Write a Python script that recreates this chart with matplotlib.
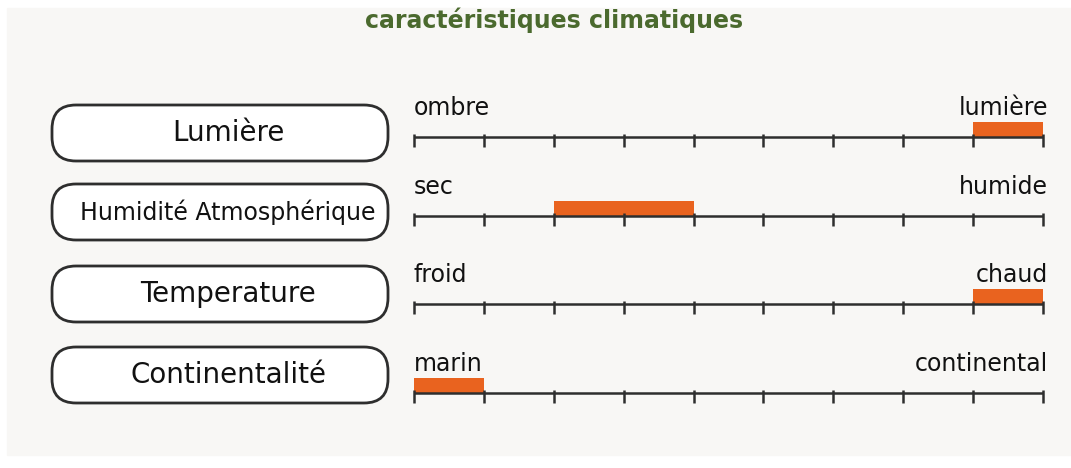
import matplotlib.pyplot as plt
from matplotlib.patches import FancyBboxPatch, Rectangle

titre = "caractéristiques climatiques"
facteurs = ["Lumière", "Humidité Atmosphérique", "Temperature", "Continentalité"]
gauche = ["ombre", "sec", "froid", "marin"]
droite = ["lumière", "humide", "chaud", "continental"]
debut = [8, 2, 8, 0]
fin = [9, 4, 9, 1]
graduations = list(range(10))

orange = '#e9631f'
trait = '#2e2e2e'

W, H = 1071, 468
fig = plt.figure(figsize=(W / 100, H / 100), dpi=100)

# calque de fond en pixels
bg = fig.add_axes([0, 0, 1, 1])
bg.set_xlim(0, W)
bg.set_ylim(H, 0)
bg.axis('off')
bg.add_patch(Rectangle((7, 8), W - 7, 447, color='#f8f7f5', zorder=0))
bg.text(554, 20, titre, ha='center', va='center', color='#4b6a2e',
        fontsize=17, fontweight='bold')

ligne_y = [137, 216, 304, 393]
boite_y = [133, 212, 294, 375]
taille_nom = [20, 17, 20, 20]
x0, x1 = 414, 1043
ppu = (x1 - x0) / (len(graduations) - 1)

for i, nom in enumerate(facteurs):
    yb = boite_y[i]
    bg.add_patch(FancyBboxPatch((52, yb - 28), 336, 56,
                                boxstyle='round,pad=0,rounding_size=24',
                                fc='white', ec=trait, lw=2))
    bg.text(228, yb, nom, ha='center', va='center', fontsize=taille_nom[i],
            color='#111111')

    ly = ligne_y[i]
    bg.text(x0, ly - 29, gauche[i], ha='left', va='center', fontsize=17,
            color='#111111')
    bg.text(x1 + 5, ly - 29, droite[i], ha='right', va='center', fontsize=17,
            color='#111111')

    ax = fig.add_axes([(x0 - 10) / W, (H - ly - 14) / H, (x1 - x0 + 20) / W, 34 / H])
    ax.set_xlim(-10 / ppu, graduations[-1] + 10 / ppu)
    ax.set_ylim(-14, 20)
    ax.axis('off')
    ax.barh(0, fin[i] - debut[i], left=debut[i], height=15, align='edge',
            color=orange, zorder=1)
    ax.hlines(0, graduations[0], graduations[-1], color=trait, lw=1.8, zorder=2)
    ax.vlines(graduations, -10, 3, color=trait, lw=1.8, zorder=2)

fig.savefig('out.png', dpi=100)
